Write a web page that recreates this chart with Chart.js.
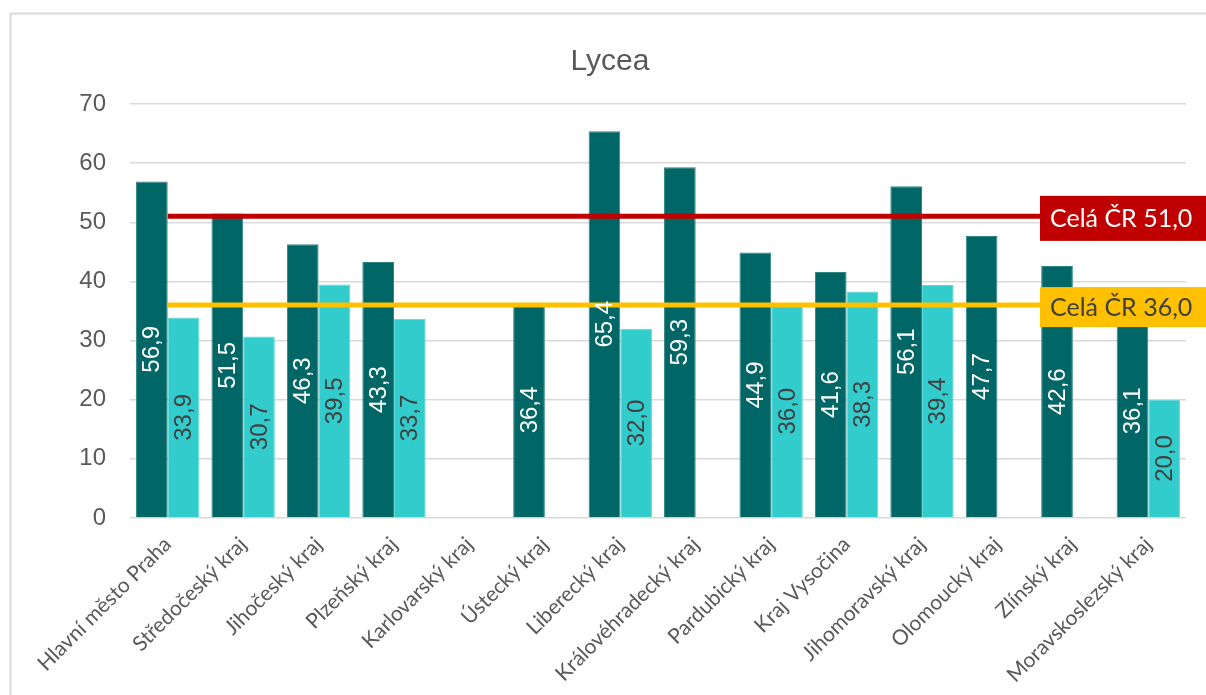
<!DOCTYPE html>
<html>
<head>
<meta charset="utf-8">
<script src="https://cdn.jsdelivr.net/npm/chart.js@4/dist/chart.umd.min.js"></script>
<style>
  html, body { margin: 0; padding: 0; background: #ffffff; }
  #wrap { width: 1206px; height: 695px; overflow: hidden; }
</style>
</head>
<body>
<div id="wrap"><canvas id="c" width="1206" height="695"></canvas></div>
<script>
const chartTitle = 'Lycea';
const categories = [
  'Hlavní město Praha', 'Středočeský kraj', 'Jihočeský kraj', 'Plzeňský kraj',
  'Karlovarský kraj', 'Ústecký kraj', 'Liberecký kraj', 'Královéhradecký kraj',
  'Pardubický kraj', 'Kraj Vysočina', 'Jihomoravský kraj', 'Olomoucký kraj',
  'Zlínský kraj', 'Moravskoslezský kraj'
];
const seriesDark  = [56.9, 51.5, 46.3, 43.3, null, 36.4, 65.4, 59.3, 44.9, 41.6, 56.1, 47.7, 42.6, 36.1];
const seriesLight = [33.9, 30.7, 39.5, 33.7, null, null, 32.0, null, 36.0, 38.3, 39.4, null, null, 20.0];
const lineHigh = [51.0, 51.0, 51.0, 51.0, 51.0, 51.0, 51.0, 51.0, 51.0, 51.0, 51.0, 51.0, 51.0, 51.0];
const lineLow  = [36.0, 36.0, 36.0, 36.0, 36.0, 36.0, 36.0, 36.0, 36.0, 36.0, 36.0, 36.0, 36.0, 36.0];
const lineLabelPrefix = 'Celá ČR';
const yTickValues = [0, 10, 20, 30, 40, 50, 60, 70];

const fmt = v => v.toFixed(1).replace('.', ',');

const decorPlugin = {
  id: 'decor',
  beforeDraw(chart) {
    const ctx = chart.ctx;
    ctx.save();
    ctx.fillStyle = '#ffffff';
    ctx.fillRect(0, 0, chart.width, chart.height);
    ctx.strokeStyle = '#d9d9d9';
    ctx.lineWidth = 2;
    ctx.strokeRect(10.5, 13.5, 1400, 1000);
    // chart title, centred on the whole chart frame
    ctx.font = '30px "Liberation Sans", Arial, sans-serif';
    ctx.fillStyle = '#595959';
    ctx.textAlign = 'center';
    ctx.textBaseline = 'middle';
    ctx.fillText(chartTitle, 610, 62);
    ctx.restore();
  },
  afterDatasetsDraw(chart) {
    const ctx = chart.ctx;
    ctx.save();
    // bar value labels
    [0, 1].forEach(di => {
      const meta = chart.getDatasetMeta(di);
      const ds = chart.data.datasets[di];
      meta.data.forEach((bar, i) => {
        const v = ds.data[i];
        if (v === null || v === undefined) return;
        const cx = bar.x;
        const cy = (bar.y + bar.base) / 2;
        ctx.save();
        ctx.translate(cx, cy);
        ctx.rotate(-Math.PI / 2);
        ctx.font = '24px "Liberation Sans", Arial, sans-serif';
        ctx.fillStyle = di === 0 ? '#ffffff' : '#404040';
        ctx.textAlign = 'center';
        ctx.textBaseline = 'middle';
        ctx.fillText(fmt(v), 0, 1);
        ctx.restore();
      });
    });
    // reference line labels
    const ys = chart.scales.y;
    const area = chart.chartArea;
    [[2, '#C00000', '#ffffff', 45], [3, '#FFC000', '#404040', 40]].forEach(([di, bg, fg, h]) => {
      const ds = chart.data.datasets[di];
      const v = ds.data[ds.data.length - 1];
      const y = ys.getPixelForValue(v) + 2;
      const left = area.right - 146;
      ctx.fillStyle = bg;
      ctx.fillRect(left, y - h / 2, 200, h);
      ctx.font = '25px Lato, "Noto Sans", sans-serif';
      ctx.fillStyle = fg;
      ctx.textAlign = 'left';
      ctx.textBaseline = 'middle';
      ctx.fillText(lineLabelPrefix + ' ' + fmt(v), left + 10, y + 1);
    });
    ctx.restore();
  }
};

new Chart(document.getElementById('c'), {
  data: {
    labels: categories,
    datasets: [
      { type: 'bar', label: 'Řada 1', data: seriesDark, backgroundColor: '#006666', borderColor: '#2f8484', borderWidth: 1, order: 2, categoryPercentage: 0.84, barPercentage: 1.0 },
      { type: 'bar', label: 'Řada 2', data: seriesLight, backgroundColor: '#33CCCC', borderColor: '#5fd8d8', borderWidth: 1, order: 2, categoryPercentage: 0.84, barPercentage: 1.0 },
      { type: 'line', label: lineLabelPrefix + ' 51,0', data: lineHigh, borderColor: '#C00000', borderWidth: 5, pointRadius: 0, fill: false, order: 1 },
      { type: 'line', label: lineLabelPrefix + ' 36,0', data: lineLow, borderColor: '#FFC000', borderWidth: 5, pointRadius: 0, fill: false, order: 1 }
    ]
  },
  options: {
    responsive: false,
    animation: false,
    devicePixelRatio: 1,
    layout: { padding: { left: 0, right: 20, top: 104, bottom: 0 } },
    plugins: {
      legend: { display: false },
      tooltip: { enabled: false },
      title: { display: false }
    },
    scales: {
      x: {
        grid: { display: false },
        border: { display: false },
        ticks: {
          color: '#595959',
          font: { family: 'Lato, "Noto Sans", sans-serif', size: 21 },
          maxRotation: 45, minRotation: 45, autoSkip: false, padding: 6
        },
        afterFit(scale) { scale.height = 177; }
      },
      y: {
        min: 0, max: 70,
        afterBuildTicks(scale) { scale.ticks = yTickValues.map(v => ({ value: v })); },
        grid: { color: '#d9d9d9', lineWidth: 1.5, drawTicks: false },
        border: { display: false },
        ticks: {
          color: '#595959',
          font: { family: '"Liberation Sans", Arial, sans-serif', size: 24 },
          padding: 24
        },
        afterFit(scale) { scale.width = 130; }
      }
    }
  },
  plugins: [decorPlugin]
});
</script>
</body>
</html>
